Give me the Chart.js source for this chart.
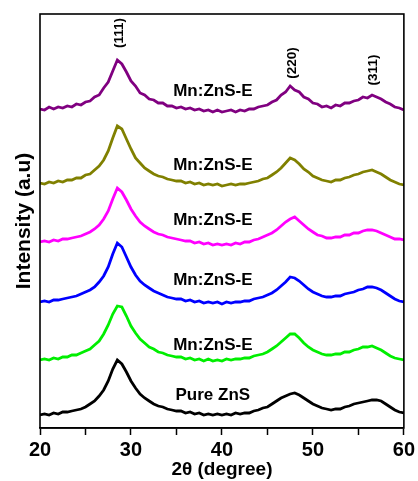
<!DOCTYPE html>
<html>
<head>
<meta charset="utf-8">
<title>XRD patterns</title>
<script src="https://cdn.jsdelivr.net/npm/chart.js@4"></script>
<style>
  html, body { margin: 0; padding: 0; background: #fff; }
  #wrap { width: 418px; height: 481px; }
</style>
</head>
<body>
<div id="wrap"><canvas id="xrd"></canvas></div>
<script>
// 2θ positions (degree), one point every 0.5°
const angles = [
  20, 20.5, 21, 21.5, 22, 22.5, 23, 23.5, 24, 24.5,
  25, 25.5, 26, 26.5, 27, 27.5, 28, 28.5, 29, 29.5,
  30, 30.5, 31, 31.5, 32, 32.5, 33, 33.5, 34, 34.5,
  35, 35.5, 36, 36.5, 37, 37.5, 38, 38.5, 39, 39.5,
  40, 40.5, 41, 41.5, 42, 42.5, 43, 43.5, 44, 44.5,
  45, 45.5, 46, 46.5, 47, 47.5, 48, 48.5, 49, 49.5,
  50, 50.5, 51, 51.5, 52, 52.5, 53, 53.5, 54, 54.5,
  55, 55.5, 56, 56.5, 57, 57.5, 58, 58.5, 59, 59.5, 60
];

// stacked intensities (a.u.), already offset as in the figure
const purpleE = [
  319, 318, 321, 319, 321, 320, 322, 321, 324, 323,
  326, 327, 331, 333, 340, 346, 357, 368, 364, 356,
  347, 342, 335, 333, 329, 328, 325, 325, 322, 322,
  320, 321, 319, 320, 318, 319, 317, 318, 316, 318,
  316, 317, 318, 316, 318, 317, 319, 319, 321, 322,
  323, 326, 328, 333, 336, 342, 338, 336, 331, 329,
  325, 324, 321, 322, 320, 323, 322, 325, 325, 327,
  328, 331, 330, 333, 331, 329, 326, 324, 321, 320, 318
];
const oliveE = [
  245, 244, 246, 245, 247, 246, 248, 248, 250, 250,
  253, 254, 258, 262, 268, 277, 290, 302, 299, 289,
  279, 270, 265, 260, 257, 254, 252, 251, 249, 248,
  247, 247, 245, 246, 244, 245, 243, 244, 243, 244,
  242, 243, 244, 243, 244, 244, 245, 246, 247, 249,
  250, 253, 256, 260, 265, 270, 268, 264, 259, 256,
  252, 250, 248, 247, 246, 248, 248, 250, 251, 253,
  254, 256, 257, 258, 256, 254, 251, 248, 246, 244, 243
];
const magentaE = [
  186, 187, 186, 188, 187, 189, 189, 190, 191, 192,
  194, 196, 199, 203, 209, 217, 229, 240, 236, 228,
  219, 212, 206, 202, 199, 196, 194, 193, 191, 190,
  189, 188, 187, 187, 185, 186, 184, 185, 183, 184,
  183, 184, 183, 185, 184, 186, 186, 188, 189, 191,
  193, 195, 198, 202, 206, 209, 211, 207, 203, 199,
  196, 193, 192, 190, 190, 191, 191, 193, 193, 195,
  195, 197, 198, 198, 197, 195, 193, 191, 189, 189, 188
];
const blueE = [
  126, 127, 126, 128, 128, 129, 130, 131, 132, 134,
  136, 138, 141, 146, 152, 161, 174, 185, 181, 171,
  161, 153, 147, 143, 140, 137, 135, 133, 131, 130,
  129, 129, 127, 128, 126, 127, 125, 126, 125, 126,
  124, 126, 125, 126, 126, 127, 127, 129, 130, 131,
  133, 135, 138, 142, 146, 151, 150, 147, 143, 139,
  136, 134, 132, 131, 131, 132, 132, 134, 135, 136,
  138, 139, 141, 141, 140, 138, 135, 132, 129, 127, 126
];
const greenE = [
  68, 69, 68, 70, 69, 71, 71, 73, 73, 75,
  77, 79, 83, 87, 94, 103, 114, 122, 121, 112,
  102, 95, 89, 85, 81, 79, 76, 75, 73, 72,
  71, 71, 69, 70, 68, 69, 67, 69, 67, 68,
  67, 69, 68, 69, 69, 70, 70, 72, 73, 74,
  76, 79, 82, 86, 90, 94, 94, 90, 85, 81,
  78, 76, 74, 73, 73, 74, 74, 76, 76, 78,
  79, 81, 81, 82, 80, 78, 75, 72, 70, 69, 68
];
const pureZnS = [
  13, 14, 13, 15, 14, 16, 16, 17, 18, 19,
  21, 24, 27, 32, 38, 47, 59, 68, 64, 56,
  47, 40, 34, 30, 27, 24, 22, 21, 19, 18,
  17, 17, 15, 16, 14, 15, 13, 14, 13, 14,
  13, 14, 13, 15, 14, 15, 15, 17, 18, 20,
  21, 24, 27, 30, 32, 34, 35, 33, 30, 27,
  24, 22, 20, 19, 18, 19, 19, 21, 22, 24,
  25, 26, 27, 28, 28, 27, 24, 21, 18, 16, 15
];

const seriesNames = ["Mn:ZnS-E", "Mn:ZnS-E", "Mn:ZnS-E", "Mn:ZnS-E", "Mn:ZnS-E", "Pure ZnS"];
const peakLabels = ["(111)", "(220)", "(311)"];
const peakAngles = [28.7, 47.7, 56.6];

const toPts = (vals) => angles.map((a, i) => ({ x: a, y: vals[i] }));

const colors = ["#800080", "#808000", "#ff00ff", "#0000ff", "#00ee00", "#000000"];
const allSeries = [purpleE, oliveE, magentaE, blueE, greenE, pureZnS];

// frame + text labels on the plot
const labelPlugin = {
  id: "labels",
  afterDraw(chart) {
    const { ctx, chartArea: a, scales: { x, y } } = chart;
    ctx.save();
    ctx.strokeStyle = "#000";
    ctx.lineWidth = 1.6;
    ctx.strokeRect(a.left, a.top, a.right - a.left, a.bottom - a.top);

    ctx.fillStyle = "#000";
    ctx.textAlign = "center";
    ctx.textBaseline = "middle";
    ctx.font = "bold 17px Arial, 'Liberation Sans', sans-serif";
    const nameY = [337, 263, 208, 148, 83, 33]; // label heights, a.u.
    seriesNames.forEach((n, i) => {
      ctx.fillText(n, x.getPixelForValue(39), y.getPixelForValue(nameY[i]));
    });

    // peak indices, rotated
    ctx.font = "bold 13.5px Arial, 'Liberation Sans', sans-serif";
    const peakY = [395, 365, 358];
    peakLabels.forEach((p, i) => {
      ctx.save();
      ctx.translate(x.getPixelForValue(peakAngles[i]), y.getPixelForValue(peakY[i]));
      ctx.rotate(-Math.PI / 2);
      ctx.fillText(p, 0, 0);
      ctx.restore();
    });
    ctx.restore();
  }
};

new Chart(document.getElementById("xrd"), {
  type: "line",
  data: {
    datasets: allSeries.map((s, i) => ({
      label: seriesNames[i],
      data: toPts(s),
      borderColor: colors[i],
      borderWidth: 2.8,
      pointRadius: 0,
      tension: 0,
      fill: false
    }))
  },
  options: {
    responsive: true,
    maintainAspectRatio: false,
    animation: false,
    events: [],
    layout: { padding: { left: 0, right: 12, top: 14, bottom: 0 } },
    plugins: { legend: { display: false }, tooltip: { enabled: false } },
    scales: {
      x: {
        type: "linear",
        min: 20,
        max: 60,
        grid: { display: true, drawOnChartArea: false, tickLength: 7, tickColor: "#000", tickWidth: 1.5 },
        border: { display: true, color: "#000", width: 1.6 },
        ticks: {
          stepSize: 5,
          padding: 3,
          color: "#000",
          maxRotation: 0,
          font: { family: "Arial, 'Liberation Sans', sans-serif", size: 20, weight: "bold" },
          callback: (v) => (v % 10 === 0 ? v : "")
        },
        title: {
          display: true,
          text: "2θ (degree)",
          color: "#000",
          padding: 0,
          font: { family: "Arial, 'Liberation Sans', sans-serif", size: 19, weight: "bold" }
        },
        afterFit: (s) => { s.height = 53; }
      },
      y: {
        min: 0,
        max: 414,
        grid: { display: false },
        border: { display: false },
        ticks: { display: false },
        title: {
          display: true,
          text: "Intensity (a.u)",
          color: "#000",
          padding: { top: 12, bottom: 0 },
          font: { family: "Arial, 'Liberation Sans', sans-serif", size: 21, weight: "bold" }
        },
        afterFit: (s) => { s.width = 40; }
      }
    }
  },
  plugins: [labelPlugin]
});
</script>
</body>
</html>
